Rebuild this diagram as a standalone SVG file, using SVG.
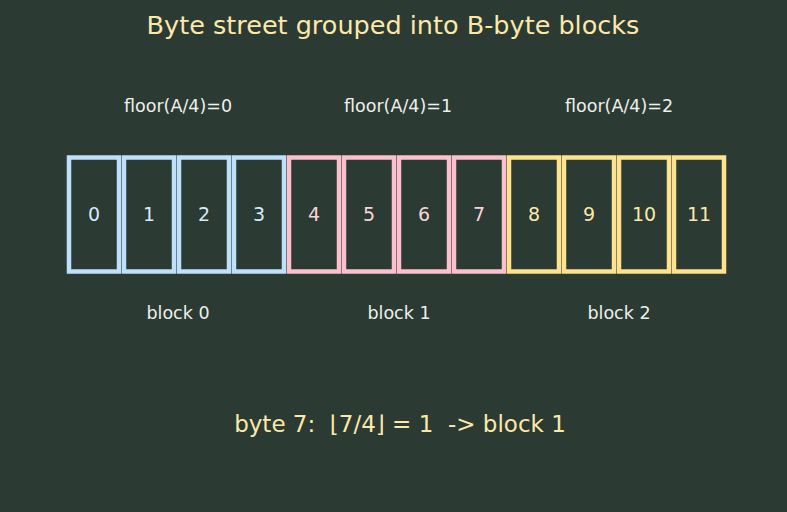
<svg xmlns="http://www.w3.org/2000/svg" width="787" height="512" viewBox="0 0 787 512">
<style>
text{font-family:"DejaVu Sans","Noto Sans",sans-serif;text-anchor:middle}
.cell{fill:#2b3a33;stroke-width:4.5}
.b0 rect{stroke:#bfe0fb}.b0 text{fill:#d6eafc}
.b1 rect{stroke:#fcc0cc}.b1 text{fill:#f8d3dc}
.b2 rect{stroke:#ffe28e}.b2 text{fill:#fce8a8}
.num{font-size:19px}
.lbl{font-size:17.5px;fill:#eef0ea}
.title{font-size:25.5px;fill:#fce8a8}
</style>
<rect width="787" height="512" fill="#2b3a33"/>
<text class="title" x="393" y="34">Byte street grouped into B-byte blocks</text>
<text class="lbl" x="178" y="112">floor(A/4)=0</text>
<text class="lbl" x="398" y="112">floor(A/4)=1</text>
<text class="lbl" x="619" y="112">floor(A/4)=2</text>
<g id="block0" class="b0">
<g id="byte0"><rect class="cell" x="69" y="157.5" width="50" height="114"/><text class="num" x="94" y="221">0</text></g>
<g id="byte1"><rect class="cell" x="124" y="157.5" width="50" height="114"/><text class="num" x="149" y="221">1</text></g>
<g id="byte2"><rect class="cell" x="179" y="157.5" width="50" height="114"/><text class="num" x="204" y="221">2</text></g>
<g id="byte3"><rect class="cell" x="234" y="157.5" width="50" height="114"/><text class="num" x="259" y="221">3</text></g>
</g>
<g id="block1" class="b1">
<g id="byte4"><rect class="cell" x="289" y="157.5" width="50" height="114"/><text class="num" x="314" y="221">4</text></g>
<g id="byte5"><rect class="cell" x="344" y="157.5" width="50" height="114"/><text class="num" x="369" y="221">5</text></g>
<g id="byte6"><rect class="cell" x="399" y="157.5" width="50" height="114"/><text class="num" x="424" y="221">6</text></g>
<g id="byte7"><rect class="cell" x="454" y="157.5" width="50" height="114"/><text class="num" x="479" y="221">7</text></g>
</g>
<g id="block2" class="b2">
<g id="byte8"><rect class="cell" x="509" y="157.5" width="50" height="114"/><text class="num" x="534" y="221">8</text></g>
<g id="byte9"><rect class="cell" x="564" y="157.5" width="50" height="114"/><text class="num" x="589" y="221">9</text></g>
<g id="byte10"><rect class="cell" x="619" y="157.5" width="50" height="114"/><text class="num" x="644" y="221">10</text></g>
<g id="byte11"><rect class="cell" x="674" y="157.5" width="50" height="114"/><text class="num" x="699" y="221">11</text></g>
</g>
<text class="lbl" x="178" y="319">block 0</text>
<text class="lbl" x="399" y="319">block 1</text>
<text class="lbl" x="619" y="319">block 2</text>
<g id="connectors"/>
<text x="400" y="432" style="font-size:23px;fill:#fce8a8;white-space:pre" xml:space="preserve">byte 7:  ⌊7/4⌋ = 1  -&gt; block 1</text>
</svg>
